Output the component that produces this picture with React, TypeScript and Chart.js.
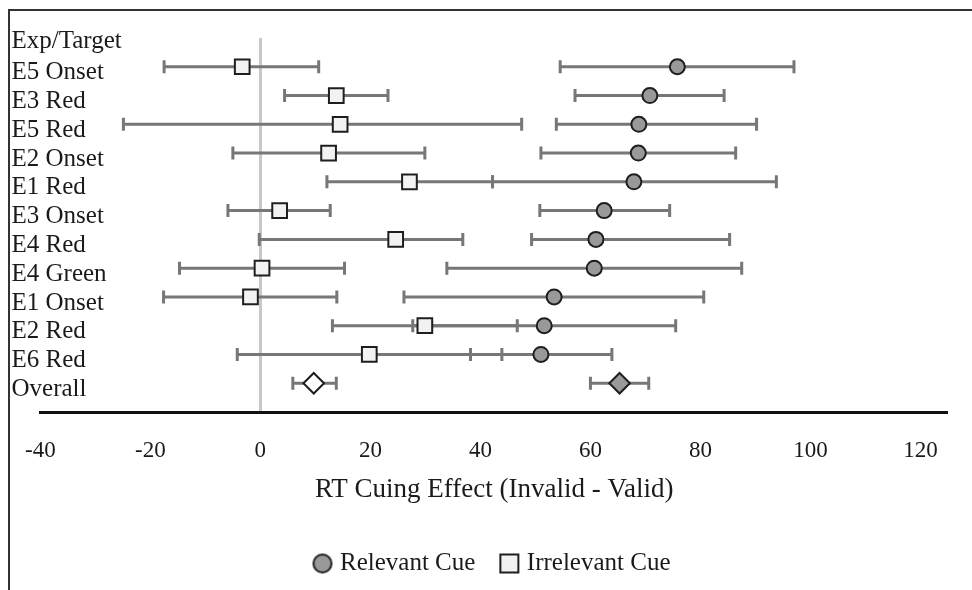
import React, { useEffect, useRef } from 'react';
import { Chart, registerables } from 'chart.js';

Chart.register(...registerables);

// ---- data ----
const rowLabels = [
  'Exp/Target', 'E5 Onset', 'E3 Red', 'E5 Red', 'E2 Onset', 'E1 Red', 'E3 Onset',
  'E4 Red', 'E4 Green', 'E1 Onset', 'E2 Red', 'E6 Red', 'Overall',
];
const relevantMean = [75.8, 70.8, 68.8, 68.7, 67.9, 62.5, 61.0, 60.7, 53.4, 51.6, 51.0, 65.3];
const relevantLow = [54.5, 57.2, 53.8, 51.0, 42.2, 50.8, 49.3, 33.9, 26.1, 27.7, 38.2, 60.0];
const relevantHigh = [97.0, 84.3, 90.2, 86.4, 93.8, 74.4, 85.3, 87.5, 80.6, 75.5, 63.9, 70.6];
const irrelevantMean = [-3.3, 13.8, 14.5, 12.4, 27.1, 3.5, 24.6, 0.3, -1.8, 29.9, 19.8, 9.7];
const irrelevantLow = [-17.5, 4.4, -24.9, -5.0, 12.1, -5.9, -0.2, -14.7, -17.6, 13.1, -4.2, 5.9];
const irrelevantHigh = [10.6, 23.2, 47.5, 29.9, 42.2, 12.7, 36.8, 15.3, 13.9, 46.7, 43.9, 13.8];
const seriesNames = ['Relevant Cue', 'Irrelevant Cue'];
const xAxisTitle = 'RT Cuing Effect (Invalid - Valid)';
const xMin = -40;
const xMax = 125;
const xStep = 20;

// ---- styles ----
const FONT = "'Liberation Serif', 'Times New Roman', serif";
const TEXT = '#1a1a1a';
const ERR = '#777777';
const EDGE = '#1e1e1e';
const GRAY_FILL = '#999999';
const LIGHT_FILL = '#f2f2f2';

function makeMarker(kind: 'circle' | 'square'): HTMLCanvasElement {
  const c = document.createElement('canvas');
  c.width = 22;
  c.height = 22;
  const g = c.getContext('2d')!;
  g.lineWidth = 2;
  g.strokeStyle = EDGE;
  if (kind === 'circle') {
    g.fillStyle = GRAY_FILL;
    g.beginPath();
    g.arc(11, 11, 9, 0, Math.PI * 2);
    g.fill();
    g.stroke();
  } else {
    g.fillStyle = LIGHT_FILL;
    g.fillRect(2, 2, 18, 18);
    g.strokeRect(2, 2, 18, 18);
  }
  return c;
}

const errorBarPlugin = {
  id: 'errorBars',
  beforeDatasetsDraw(chart: any) {
    const { ctx, scales } = chart;
    const xs = scales.x;
    const ys = scales.y;
    ctx.save();
    ctx.strokeStyle = ERR;
    ctx.lineWidth = 3;
    ctx.lineCap = 'butt';
    chart.data.datasets.forEach((ds: any) => {
      ds.data.forEach((p: any) => {
        const py = ys.getPixelForValue(p.y);
        const x1 = xs.getPixelForValue(p.lo);
        const x2 = xs.getPixelForValue(p.hi);
        ctx.beginPath();
        ctx.moveTo(x1, py);
        ctx.lineTo(x2, py);
        ctx.moveTo(x1, py - 6.5);
        ctx.lineTo(x1, py + 6.5);
        ctx.moveTo(x2, py - 6.5);
        ctx.lineTo(x2, py + 6.5);
        ctx.stroke();
      });
    });
    ctx.restore();
  },
};

const rowLabelPlugin = {
  id: 'rowLabels',
  afterDatasetsDraw(chart: any) {
    const { ctx } = chart;
    const ys = chart.scales.y;
    ctx.save();
    ctx.font = `25px ${FONT}`;
    ctx.fillStyle = TEXT;
    ctx.textAlign = 'left';
    ctx.textBaseline = 'alphabetic';
    rowLabels.forEach((lab, i) => {
      const py = ys.getPixelForValue(i) + (i === 0 ? 9.5 : 12.6);
      ctx.fillText(lab, 11.5, py);
    });
    ctx.restore();
  },
};

export default function App() {
  const ref = useRef<HTMLCanvasElement>(null);

  useEffect(() => {
    const last = relevantMean.length - 1;
    const relData = relevantMean.map((v, i) => ({ x: v, y: i + 1, lo: relevantLow[i], hi: relevantHigh[i] }));
    const irrData = irrelevantMean.map((v, i) => ({ x: v, y: i + 1, lo: irrelevantLow[i], hi: irrelevantHigh[i] }));
    const circleImg = makeMarker('circle');
    const squareImg = makeMarker('square');

    const chart = new Chart(ref.current!, {
      type: 'scatter',
      data: {
        datasets: [
          {
            label: seriesNames[0],
            data: relData,
            pointStyle: relData.map((_, i) => (i === last ? 'rectRot' : 'circle')),
            pointRadius: relData.map((_, i) => (i === last ? 10.3 : 7.5)),
            backgroundColor: GRAY_FILL,
            borderColor: EDGE,
            borderWidth: 2,
          } as any,
          {
            label: seriesNames[1],
            data: irrData,
            pointStyle: irrData.map((_, i) => (i === last ? 'rectRot' : 'rect')),
            pointRadius: irrData.map((_, i) => (i === last ? 10.3 : 10.4)),
            backgroundColor: irrData.map((_, i) => (i === last ? '#ffffff' : LIGHT_FILL)),
            borderColor: EDGE,
            borderWidth: 2,
          } as any,
        ],
      },
      options: {
        responsive: false,
        animation: false,
        events: [],
        layout: { padding: { top: 38, left: 40, right: 24, bottom: 0 } },
        scales: {
          x: {
            type: 'linear',
            min: xMin,
            max: xMax,
            ticks: {
              stepSize: xStep,
              includeBounds: false,
              autoSkip: false,
              maxRotation: 0,
              padding: 25,
              color: TEXT,
              font: { family: FONT, size: 23 },
            },
            grid: {
              drawTicks: false,
              color: (c: any) => (c.tick && c.tick.value === 0 ? '#c8c8c8' : 'rgba(0,0,0,0)'),
              lineWidth: (c: any) => (c.tick && c.tick.value === 0 ? 3 : 0),
            },
            border: { display: true, color: '#111111', width: 3 },
            title: {
              display: true,
              text: xAxisTitle,
              color: TEXT,
              font: { family: FONT, size: 27 },
              padding: { top: -16, bottom: 16 },
            },
          },
          y: {
            type: 'linear',
            reverse: true,
            min: 0,
            max: 13,
            display: false,
          },
        },
        plugins: {
          tooltip: { enabled: false },
          legend: {
            position: 'bottom',
            labels: {
              usePointStyle: true,
              boxWidth: 10,
              boxHeight: 20,
              padding: 29,
              color: TEXT,
              font: { family: FONT, size: 25 },
              generateLabels: () => [
                { text: seriesNames[0], pointStyle: circleImg, fillStyle: GRAY_FILL, strokeStyle: EDGE, lineWidth: 2, hidden: false, datasetIndex: 0, fontColor: TEXT } as any,
                { text: seriesNames[1], pointStyle: squareImg, fillStyle: LIGHT_FILL, strokeStyle: EDGE, lineWidth: 2, hidden: false, datasetIndex: 1, fontColor: TEXT } as any,
              ],
            },
          },
        },
      },
      plugins: [errorBarPlugin, rowLabelPlugin],
    });
    return () => chart.destroy();
  }, []);

  return (
    <div style={{ position: 'fixed', left: 0, top: 0, width: 972, height: 590, overflow: 'hidden', background: '#ffffff' }}>
      <canvas ref={ref} width={972} height={586} style={{ display: 'block', width: 972, height: 586 }} />
      <div
        style={{
          position: 'absolute', left: 8, top: 9, width: 1000, height: 700,
          borderLeft: '2px solid #333333', borderTop: '2px solid #333333', pointerEvents: 'none',
        }}
      />
    </div>
  );
}
